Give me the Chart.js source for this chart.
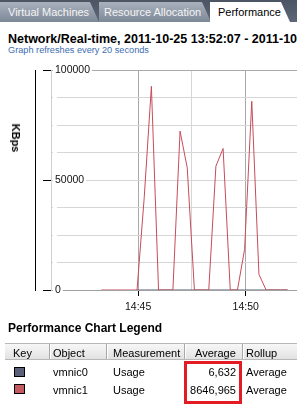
<!DOCTYPE html>
<html><head><meta charset="utf-8">
<script src="https://cdn.jsdelivr.net/npm/chart.js@4.4.1/dist/chart.umd.min.js"></script>
<style>
html,body{margin:0;padding:0;background:#fff;}
#page{position:relative;width:297px;height:407px;overflow:hidden;background:#fff;font-family:"Liberation Sans",Arial,sans-serif;color:#000;}
.abs{position:absolute;white-space:nowrap;}
.tabbar{left:0;top:0;width:297px;height:22px;background:linear-gradient(#4c5563,#5d6777);}
.tab{top:2px;height:20px;font-size:11px;line-height:20px;clip-path:polygon(0 0,calc(100% - 9px) 0,100% 100%,0 100%);}
.tab.off{background:linear-gradient(#a9b1bd,#7d8897);color:#f4f4f4;}
.tab.on{background:#fff;color:#000;}
#title{left:8px;top:33.4px;font-size:12.5px;line-height:12.5px;font-weight:bold;}
#sub{left:8px;top:46.2px;font-size:9.2px;line-height:9.2px;color:#3d6db0;}
#kbps{left:15.5px;top:137.5px;font-size:11px;font-weight:bold;transform:translate(-50%,-50%) rotate(90deg);}
#wrap{left:0;top:60px;width:297px;height:262px;overflow:hidden;}
#legt{left:8px;top:321.8px;font-size:12px;line-height:12px;font-weight:bold;}
.hdr{left:5px;top:343px;width:292px;height:17px;background:linear-gradient(#f7f7f7,#e2e2e2);border-top:1px solid #b8b8b8;border-bottom:1px solid #b8b8b8;box-sizing:border-box;}
.sep{top:344px;width:1px;height:15px;background:#a8a8a8;box-shadow:1px 0 0 #fff;}
.cell{font-size:11px;line-height:11px;}
.key{width:11px;height:10px;box-sizing:border-box;border:1px solid #000;}
#box{left:184px;top:361px;width:58px;height:43px;box-sizing:border-box;border:3px solid #e31b23;}
</style></head>
<body>
<div id="page">
  <div class="abs tabbar"></div>
  <div class="abs tab off" style="left:-4px;width:103px;padding-left:12px;box-sizing:border-box;">Virtual Machines</div>
  <div class="abs tab off" style="left:99px;width:112px;padding-left:5px;box-sizing:border-box;">Resource Allocation</div>
  <div class="abs tab on" style="left:210px;width:80px;padding-left:8px;box-sizing:border-box;">Performance</div>
  <div id="title" class="abs">Network/Real-time, 2011-10-25 13:52:07 - 2011-10-25 14:52:07</div>
  <div id="sub" class="abs">Graph refreshes every 20 seconds</div>
  <div id="wrap" class="abs"><canvas id="c" width="330" height="262" style="width:330px;height:262px;display:block;"></canvas></div>
  <div id="kbps" class="abs">KBps</div>
  <div id="legt" class="abs">Performance Chart Legend</div>
  <div class="abs hdr"></div>
  <div class="abs sep" style="left:49px;"></div>
  <div class="abs sep" style="left:106px;"></div>
  <div class="abs sep" style="left:184px;"></div>
  <div class="abs sep" style="left:242px;"></div>
  <div class="abs cell" style="left:13px;top:347.5px;">Key</div>
  <div class="abs cell" style="left:53px;top:347.5px;">Object</div>
  <div class="abs cell" style="left:113px;top:347.5px;">Measurement</div>
  <div class="abs cell" style="left:195px;top:347.5px;">Average</div>
  <div class="abs cell" style="left:246px;top:347.5px;">Rollup</div>
  <div id="rows"></div>
  <div id="box" class="abs"></div>
</div>
<script>
// ---- data ----
const redTimes = ["14:43:17","14:43:37","14:43:57","14:44:17","14:44:37","14:44:57","14:45:17","14:45:37","14:45:57","14:46:17","14:46:37","14:46:57","14:47:17","14:47:37","14:47:57","14:48:17","14:48:37","14:48:57","14:49:17","14:49:37","14:49:57","14:50:17","14:50:37","14:50:57","14:51:17","14:51:37","14:51:57"];
const vmnic1Values = [0,0,0,0,0,0,42000,92700,0,0,0,72300,55600,0,0,0,56400,64400,0,0,18500,85900,7100,0,0,0,0];
const blueTimes = ["14:44:57","14:45:17","14:45:37","14:45:57","14:46:17","14:46:37","14:46:57","14:47:17","14:47:37","14:47:57","14:48:17","14:48:37","14:48:57","14:49:17","14:49:37","14:49:57","14:50:17","14:50:37","14:50:57","14:51:17","14:51:37","14:51:57"];
const vmnic0Values = [4,8,9,5,6,7,5,8,6,7,6,9,5,7,6,8,5,6,7,8,6,5];
const xGridTimes = ["14:45","14:47:30","14:50","14:52:30"];
const xLabelTimes = ["14:45","14:50"];
const yLabelValues = [0,50000,100000];
const yGridStep = 12500;
const legendObjects = ["vmnic0","vmnic1"];
const legendMeasurement = ["Usage","Usage"];
const legendAverage = ["6,632","8646,965"];
const legendRollup = ["Average","Average"];
const legendColors = ["#5b6079","#c35a5f"];
const lineColors = ["#5c6380","#c64c58"];

const toMin = s => { const p = s.split(':').map(Number); return (p[0]-14)*60 + p[1] + (p[2]||0)/60; };
const xLabelMins = xLabelTimes.map(toMin);
const isLabelX = v => xLabelMins.some(m => Math.abs(m - v) < 1e-6);

// legend rows
const rows = document.getElementById('rows');
legendObjects.forEach((o, i) => {
  const base = 366.5 + i * 18.4;
  rows.insertAdjacentHTML('beforeend',
    `<div class="abs key" style="left:14px;top:${367 + i*17}px;background:${legendColors[i]}"></div>` +
    `<div class="abs cell" style="left:53px;top:${base}px;">${o}</div>` +
    `<div class="abs cell" style="left:113px;top:${base}px;">${legendMeasurement[i]}</div>` +
    `<div class="abs cell" style="right:${297-236}px;top:${base}px;">${legendAverage[i]}</div>` +
    `<div class="abs cell" style="left:246px;top:${base}px;">${legendRollup[i]}</div>`);
});

Chart.defaults.font.family = '"Liberation Sans", Arial, sans-serif';
Chart.defaults.font.size = 10.5;
Chart.defaults.color = '#111';

new Chart(document.getElementById('c').getContext('2d'), {
  type: 'line',
  data: {
    datasets: [
      { label: 'vmnic1', data: redTimes.map((t, i) => ({x: toMin(t), y: vmnic1Values[i]})),
        borderColor: lineColors[1], borderWidth: 1, pointRadius: 0, tension: 0, fill: false, order: 0 },
      { label: 'vmnic0', data: blueTimes.map((t, i) => ({x: toMin(t), y: vmnic0Values[i]})),
        borderColor: lineColors[0], borderWidth: 1, pointRadius: 0, tension: 0, fill: false, order: 1 }
    ]
  },
  options: {
    responsive: false, animation: false, devicePixelRatio: 1,
    layout: { padding: { left: 35, top: 9, right: 10, bottom: 3.4 } },
    plugins: { legend: { display: false }, tooltip: { enabled: false } },
    scales: {
      x: {
        type: 'linear', min: 40.95, max: 53.455,
        afterBuildTicks: s => { s.ticks = xGridTimes.map(t => ({ value: toMin(t) })); },
        grid: {
          color: c => (c.tick && isLabelX(c.tick.value)) ? '#a9a9a9' : '#d6d6d6',
          tickColor: c => (c.tick && isLabelX(c.tick.value)) ? '#000' : 'rgba(0,0,0,0)',
          tickLength: 6, lineWidth: 1
        },
        border: { display: true, color: '#a0a0a0' },
        ticks: {
          autoSkip: false, maxRotation: 0, padding: 5,
          callback: v => { const i = xLabelMins.findIndex(m => Math.abs(m - v) < 1e-6); return i >= 0 ? xLabelTimes[i] : ''; }
        }
      },
      y: {
        position: 'left', weight: 0, min: 0, max: 100000,
        afterBuildTicks: s => { const t = []; for (let v = 0; v <= 100000; v += yGridStep) t.push({ value: v }); s.ticks = t; },
        grid: {
          color: c => (c.tick && (c.tick.value === 0 || c.tick.value === 100000)) ? '#a9a9a9' : '#d6d6d6',
          tickColor: c => (c.tick && yLabelValues.includes(c.tick.value)) ? '#000' : 'rgba(0,0,0,0)',
          tickLength: 8, lineWidth: 1
        },
        border: { display: true, color: '#d0d0d0' },
        ticks: {
          mirror: true, padding: 4, showLabelBackdrop: true, backdropColor: '#fff', backdropPadding: { x: 2, y: 0 },
          callback: v => yLabelValues.includes(v) ? String(v) : ''
        }
      },
      yAxisLine: {
        type: 'linear', position: 'left', weight: 1, min: 0, max: 100000, display: true,
        grid: { display: false, drawTicks: false },
        ticks: { display: false },
        border: { display: true, color: '#000', width: 1 }
      }
    }
  }
});
</script>
</body></html>
